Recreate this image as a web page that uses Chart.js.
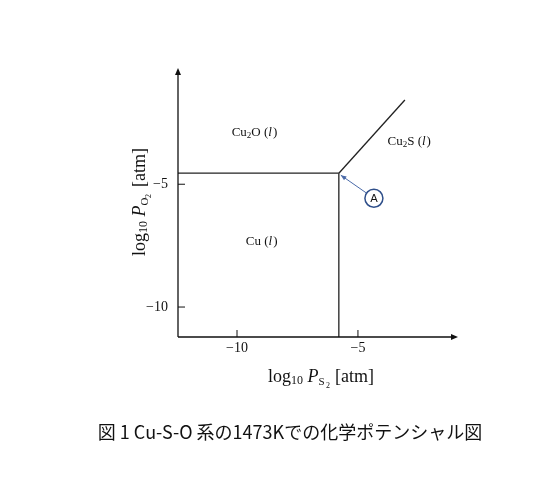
<!DOCTYPE html>
<html><head><meta charset="utf-8">
<script src="https://cdn.jsdelivr.net/npm/chart.js@4"></script>
<style>html,body{margin:0;padding:0;background:#fff}#w{width:543px;height:481px}</style>
</head><body><div id="w"><canvas id="c"></canvas></div>
<script>
const xTicks=[-10,-5];
const yTicks=[-10,-5];
const lineH=[{x:-12.44,y:-4.55},{x:-5.79,y:-4.55}];
const lineV=[{x:-5.79,y:-11.22},{x:-5.79,y:-4.55}];
const lineD=[{x:-5.79,y:-4.55},{x:-3.06,y:-1.57}];
const labels=[{t:'Cu',s:'2',r:'O (',x:-9.3,y:-2.9},{t:'Cu',s:'2',r:'S (',x:-2.9,y:-3.25},{t:'Cu (',s:'',r:'',x:-9.0,y:-7.35}];
const pointA={x:-4.34,y:-5.57};
const SERIF='"Liberation Serif","DejaVu Serif",serif';
const ds=(d)=>({data:d,borderColor:'#222',borderWidth:1.3,pointRadius:0,showLine:true,fill:false});
const deco={id:'deco',afterDraw(ch){
 const c=ch.ctx,X=ch.scales.x,Y=ch.scales.y,a=ch.chartArea;
 c.save();c.strokeStyle='#111';c.fillStyle='#111';c.lineWidth=1.3;
 c.beginPath();c.moveTo(a.left,a.bottom);c.lineTo(a.left,a.top);c.moveTo(a.left,a.bottom);c.lineTo(a.right,a.bottom);c.stroke();
 c.beginPath();c.moveTo(a.left,a.top-5);c.lineTo(a.left-3,a.top+2);c.lineTo(a.left+3,a.top+2);c.fill();
 c.beginPath();c.moveTo(a.right+5,a.bottom);c.lineTo(a.right-2,a.bottom-3);c.lineTo(a.right-2,a.bottom+3);c.fill();
 c.lineWidth=1;
 xTicks.forEach(v=>{const px=X.getPixelForValue(v);c.beginPath();c.moveTo(px,a.bottom);c.lineTo(px,a.bottom-7);c.stroke();});
 yTicks.forEach(v=>{const py=Y.getPixelForValue(v);c.beginPath();c.moveTo(a.left,py);c.lineTo(a.left+7,py);c.stroke();});
 labels.forEach(l=>{let px=X.getPixelForValue(l.x),py=Y.getPixelForValue(l.y);
  c.textBaseline='middle';c.textAlign='left';
  const parts=[[l.t,'13px '+SERIF,0],[l.s,'9px '+SERIF,3],[l.r,'13px '+SERIF,0],['l','italic 13px '+SERIF,0],[')','13px '+SERIF,0]];
  let w=0;parts.forEach(p=>{c.font=p[1];w+=c.measureText(p[0]).width;});
  px-=w/2;parts.forEach(p=>{c.font=p[1];c.fillText(p[0],px,py+p[2]);px+=c.measureText(p[0]).width+(p[0]==='l'?1:0);});
 });
 const ax=X.getPixelForValue(pointA.x),ay=Y.getPixelForValue(pointA.y);
 const tx=X.getPixelForValue(lineH[1].x)+2,ty=Y.getPixelForValue(lineH[1].y)+2;
 c.strokeStyle='#4a6aa8';c.fillStyle='#4a6aa8';c.lineWidth=1;
 const ang=Math.atan2(ty-ay,tx-ax),sx=ax+Math.cos(ang)*9,sy=ay+Math.sin(ang)*9;
 c.beginPath();c.moveTo(sx,sy);c.lineTo(tx,ty);c.stroke();
 c.beginPath();c.moveTo(tx,ty);c.lineTo(tx-6*Math.cos(ang-0.4),ty-6*Math.sin(ang-0.4));c.lineTo(tx-6*Math.cos(ang+0.4),ty-6*Math.sin(ang+0.4));c.fill();
 c.strokeStyle='#2f4f8a';c.lineWidth=1.5;c.beginPath();c.arc(ax,ay,9,0,Math.PI*2);c.stroke();
 c.fillStyle='#111';c.font='11px "DejaVu Sans",sans-serif';c.textAlign='center';c.textBaseline='middle';c.fillText('A',ax,ay+0.5);
 const title=(cx,cy,sub)=>{const parts=[['log','18px '+SERIF,0],['10','12px '+SERIF,4],[' ','18px '+SERIF,0],['P','italic 18px '+SERIF,0],[sub,'11px '+SERIF,5],[' [atm]','18px '+SERIF,0]];
  let w=0;parts.forEach(p=>{c.font=p[1];w+=c.measureText(p[0]).width;});
  let px=cx-w/2;c.textAlign='left';c.textBaseline='middle';
  parts.forEach(p=>{c.font=p[1];c.fillText(p[0],px,cy+p[2]);if(p[0]===sub){c.font='8px '+SERIF;c.fillText('2',px+c.measureText('S').width+3,cy+p[2]+4);c.font=p[1];px+=6;}px+=c.measureText(p[0]).width;});};
 c.fillStyle='#111';
 title(318,377,'S');
 c.save();c.translate(140,205);c.rotate(-Math.PI/2);title(0,0,'O');c.restore();
 c.font='18px "Noto Sans CJK JP"';c.textAlign='center';c.textBaseline='middle';
 c.fillText('図 1 Cu-S-O 系の1473Kでの化学ポテンシャル図',290,432);
 c.restore();}};
new Chart(document.getElementById('c'),{type:'scatter',
 data:{datasets:[ds(lineH),ds(lineV),ds(lineD)]},
 options:{responsive:true,maintainAspectRatio:false,animation:false,
  plugins:{legend:{display:false},tooltip:{enabled:false}},
  layout:{padding:{left:0,top:73,right:90,bottom:0}},
  scales:{
   x:{type:'linear',min:-12.44,max:-1.07,afterFit(s){s.height=144;},border:{display:false},grid:{display:false},
      afterBuildTicks(s){s.ticks=xTicks.map(v=>({value:v}));},
      ticks:{padding:-5,color:'#111',font:{family:SERIF,size:14},callback:v=>'\u2212'+Math.abs(v)}},
   y:{type:'linear',min:-11.22,max:-0.47,afterFit(s){s.width=178;},border:{display:false},grid:{display:false},
      afterBuildTicks(s){s.ticks=yTicks.map(v=>({value:v}));},
      ticks:{padding:2,color:'#111',font:{family:SERIF,size:14},callback:v=>'\u2212'+Math.abs(v)}}
  }},plugins:[deco]});
</script></body></html>
